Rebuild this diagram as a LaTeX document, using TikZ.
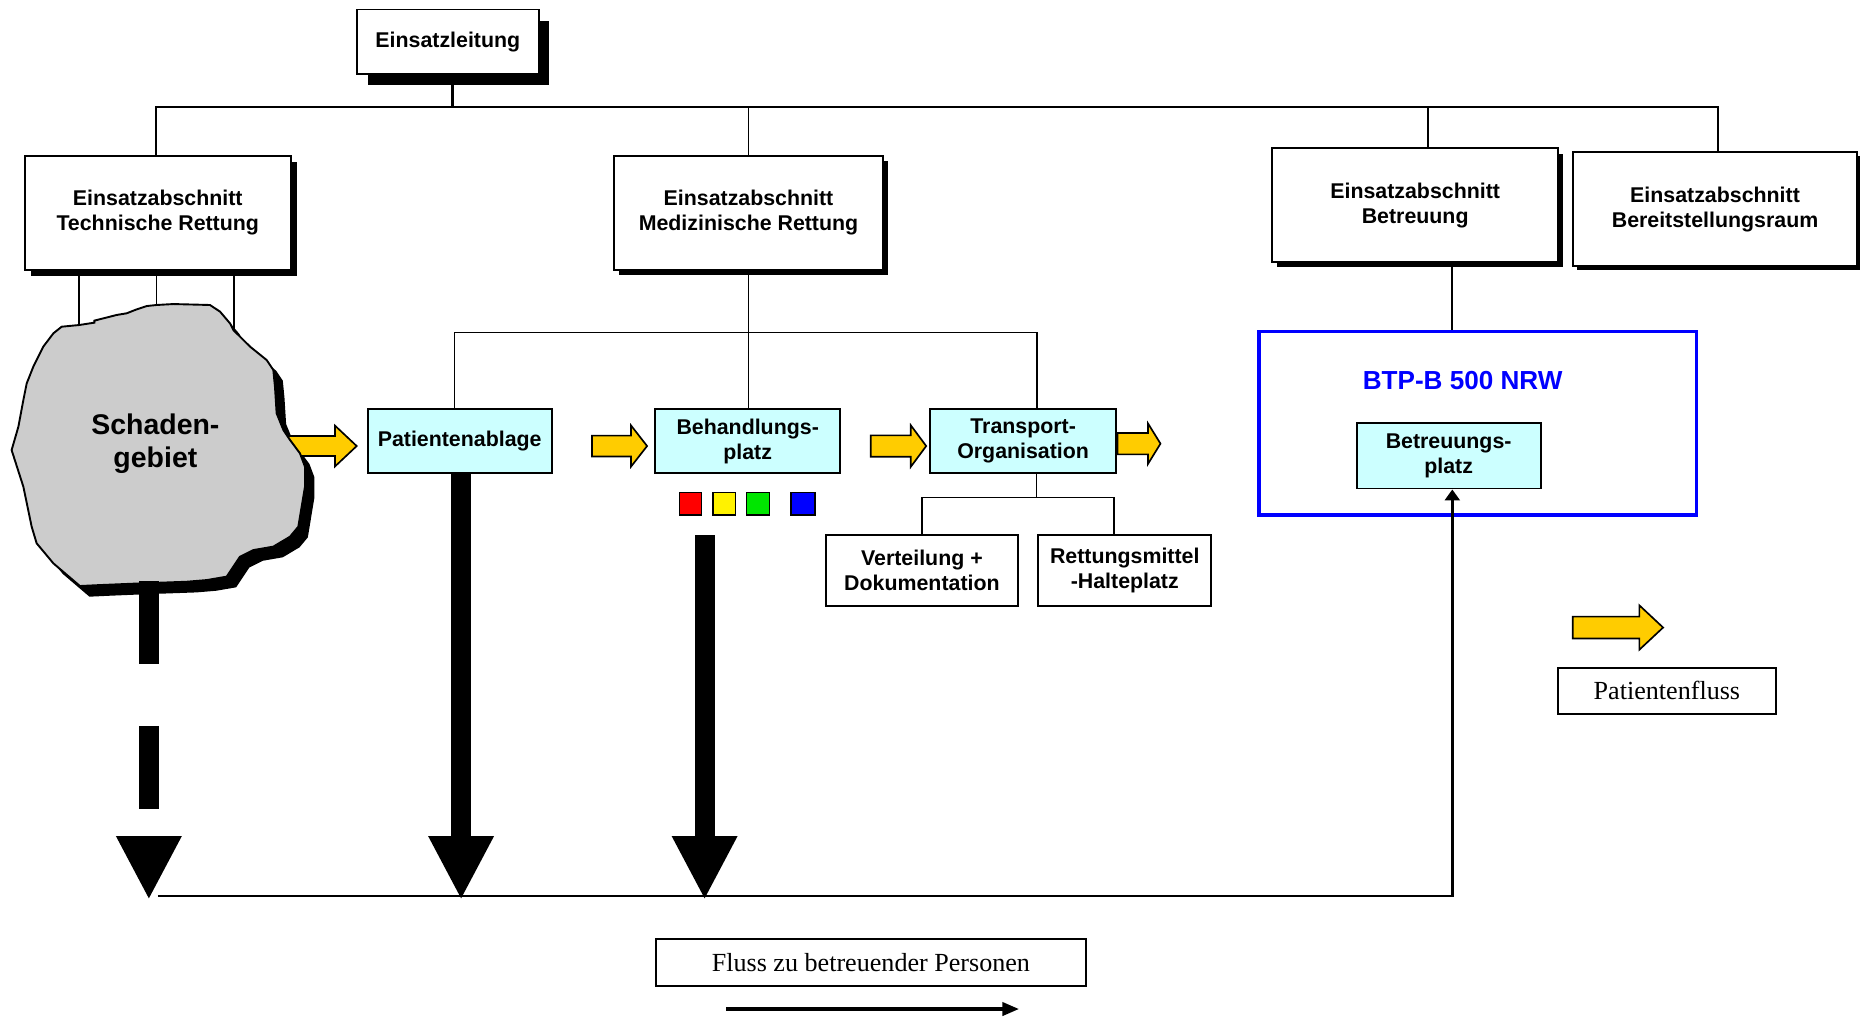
\documentclass[tikz,border=0pt]{standalone}
\usepackage{fontspec}
\setmainfont{Liberation Serif}
\newfontfamily\arialf{Liberation Sans}
\usetikzlibrary{arrows.meta,shadows}
\definecolor{cyanbox}{HTML}{CCFFFF}
\definecolor{yel}{HTML}{FFCC00}
\definecolor{blobgray}{gray}{0.8}
\definecolor{bluebtp}{HTML}{0000FF}
\definecolor{sqgreen}{HTML}{00E600}
\newcommand{\YArrow}[6]{%
  \draw[yarr] (#1,#4-#5) -- (#2,#4-#5) -- (#2,#4-#6) -- (#3,#4) -- (#2,#4+#6) -- (#2,#4+#5) -- (#1,#4+#5) -- cycle;}
\begin{document}
\begin{tikzpicture}[x=0.5pt,y=-0.5pt,
  wh/.style 2 args={minimum width=#1*0.5pt, minimum height=#2*0.5pt},
  box/.style={draw, line width=0.8pt, fill=white, inner sep=0pt, align=center,
    font=\arialf\bfseries\fontsize{9}{10.5}\selectfont},
  cbox/.style={box, fill=cyanbox},
  legbox/.style={draw, line width=0.8pt, fill=white, inner sep=0pt,
    font=\fontsize{11}{13}\selectfont},
  conn/.style={line width=0.7pt},
  yarr/.style={draw=black, line width=0.7pt, fill=yel, line join=miter},
  fat/.style={line width=8.5pt, -{Triangle[length=26.25pt,width=27.8pt,line width=0pt]}},
  sq/.style={draw=black, line width=0.6pt},
  blobp/.style={insert path={(52,275.4) -- (66.6,274) -- (79.5,272) -- (79.5,270.3) -- (98.4,265.5) -- (106.8,264.1) -- (115.2,260.8) -- (123.6,258) -- (132.1,257.1) -- (146.1,256.3) -- (177,257.1) -- (185.5,262.7) -- (193.9,272.6) -- (196.7,278.2) -- (210.8,292.2) -- (224.8,303.5) -- (230.4,311.9) -- (231.8,326) -- (233.2,348.4) -- (238.9,362.5) -- (244.5,370.9) -- (252.9,382.2) -- (257.1,393.4) -- (257.1,410.3) -- (254.3,427.1) -- (251.5,444) -- (244.5,452.4) -- (230.4,460.8) -- (213.6,463.7) -- (202.3,469.3) -- (196.7,477.7) -- (191.1,486.1) -- (174.2,489) -- (157.4,490.4) -- (118,491.8) -- (84.3,493.2) -- (67.4,494) -- (45,474.9) -- (30.9,458) -- (26.7,444) -- (19.7,410.3) -- (9.8,379.4) -- (15.5,359.7) -- (19.7,337.2) -- (22.5,323.2) -- (28.1,309.1) -- (36.5,292.2) -- (45,281) -- cycle}}
]
\fill[white] (0,0) rectangle (1568,859);
\useasboundingbox (0,0) rectangle (1568,859);

% coordinates
\coordinate (s0) at (381.5,91);
\coordinate (b1) at (131.6,90);
\coordinate (b2) at (631,90);
\coordinate (b3) at (1203.6,90);
\coordinate (b4) at (1448,90);
\coordinate (t1) at (66.6,282);
\coordinate (t2) at (132,264);
\coordinate (t3) at (197,288);
\coordinate (m0) at (631,280.2);
\coordinate (m1) at (383,280.2);
\coordinate (m3) at (874,280.2);
\coordinate (n0) at (873.7,419.5);
\coordinate (n1) at (777,419.5);
\coordinate (n2) at (938.9,419.5);
\coordinate (k0) at (1224.3,250);
\coordinate (f0) at (133,755.4);
\coordinate (f1) at (1224.3,755.4);
\coordinate (sgb) at (125.5,490);
\coordinate (d1) at (125.5,757.3);
\coordinate (p1) at (388.7,757.3);
\coordinate (q0) at (594,451);
\coordinate (q1) at (594,757.3);
\coordinate (la0) at (612.3,850.6);
\coordinate (la1) at (859,850.6);

% boxes
\node[box, wh={153}{54}, drop shadow={shadow xshift=4.5pt, shadow yshift=-5pt, fill=black, opacity=1}] (el) at (377.5,35) {Einsatzleitung};
\node[box, wh={224}{96}, drop shadow={shadow xshift=2.5pt, shadow yshift=-2.5pt, fill=black, opacity=1}] (ea1) at (133,179.5) {Einsatzabschnitt\\Technische Rettung};
\node[box, wh={227}{96}, drop shadow={shadow xshift=2pt, shadow yshift=-2pt, fill=black, opacity=1}] (ea2) at (631,179.5) {Einsatzabschnitt\\Medizinische Rettung};
\node[box, wh={241}{96}, drop shadow={shadow xshift=2.2pt, shadow yshift=-2.2pt, fill=black, opacity=1}] (ea3) at (1193,173) {Einsatzabschnitt\\Betreuung};
\node[box, wh={239}{96}, drop shadow={shadow xshift=1.5pt, shadow yshift=-1.5pt, fill=black, opacity=1}] (ea4) at (1445.8,176.3) {Einsatzabschnitt\\Bereitstellungsraum};

\node[cbox, wh={155}{54}] (pa) at (387.5,372) {Patientenablage};
\node[cbox, wh={156}{54}] (bp) at (630.3,372) {Behandlungs-\\platz};
\node[cbox, wh={157}{54}] (to) at (862.5,372) {Transport-\\Organisation};
\node[box, wh={162}{60}] (vd) at (777.2,481) {Verteilung +\\Dokumentation};
\node[box, wh={146}{60}] (rh) at (948.2,481) {Rettungsmittel\\-Halteplatz};

\node[draw=bluebtp, line width=1.4pt, inner sep=0pt, wh={369}{154.6}] (btp) at (1245.8,356.9) {};
\node[text=bluebtp, font=\arialf\bfseries\fontsize{11}{13}\selectfont] (btpt) at (1233,320.5) {BTP-B 500 NRW};
\node[cbox, wh={155}{55}] (bep) at (1221.2,384.3) {Betreuungs-\\platz};

\node[legbox, wh={362}{39.4}] (leg1) at (734.2,811.3) {Fluss zu betreuender Personen};
\node[legbox, wh={184}{39}] (leg2) at (1405.2,582.4) {Patientenfluss};

% connectors
\draw[line width=1.6pt] (el.south -| s0) -- (s0);
\draw[conn] (ea1.north -| b1) -- (b1) -- (b4) -- (ea4.north -| b4);
\draw[conn] (b2) -- (ea2.north -| b2);
\draw[conn] (b3) -- (ea3.north -| b3);
\draw[conn] (ea1.south -| t1) -- (t1);
\draw[conn] (ea1.south -| t2) -- (t2);
\draw[conn] (ea1.south -| t3) -- (t3);
\draw[conn] (ea2.south -| m0) -- (m0) -- (bp.north -| m0);
\draw[conn] (pa.north -| m1) -- (m1) -- (m3) -- (to.north -| m3);
\draw[conn] (to.south -| n0) -- (n0);
\draw[conn] (vd.north -| n1) -- (n1) -- (n2) -- (rh.north -| n2);
\draw[conn] (ea3.south -| k0) -- (btp.north -| k0);

% Schadengebiet
\fill[black, shift={(8,9)}, blobp];
\YArrow{241.7}{282.4}{300.7}{376}{8.4}{17.2}
\draw[line width=0.8pt, fill=blobgray, blobp];
\node[font=\arialf\bfseries\fontsize{12}{14}\selectfont, align=center] (sg) at (131,374) {Schaden-\\gebiet};

% yellow patient flow arrows
\YArrow{499}{532}{545.5}{376}{8.8}{17.3}
\YArrow{734}{767.8}{780.8}{376}{9}{17.5}
\YArrow{942}{967.8}{978.3}{374}{9}{17}
\YArrow{1325.8}{1382}{1402}{529}{9.2}{18.7}

% triage squares
\draw[sq, fill=red] (572.7,415) rectangle (591.4,434.2);
\draw[sq, fill=yellow] (601,415) rectangle (620.1,434.2);
\draw[sq, fill=sqgreen] (629.2,415) rectangle (648.5,434.2);
\draw[sq, fill=bluebtp] (666.9,415) rectangle (687.2,434.2);

% flow of persons
\draw[fat, dash pattern=on 35pt off 26pt on 35.15pt off 20pt] (sgb) -- (d1);
\draw[fat] (pa.south -| p1) -- (p1);
\draw[fat] (q0) -- (q1);
\draw[line width=1pt, -{Triangle[length=4.6pt,width=6.3pt]}] (f0) -- (f1) -- (bep.south -| f1);

% legend arrow
\draw[line width=1.3pt, -{Triangle[length=7pt,width=5.6pt]}] (la0) -- (la1);
\end{tikzpicture}
\end{document}
